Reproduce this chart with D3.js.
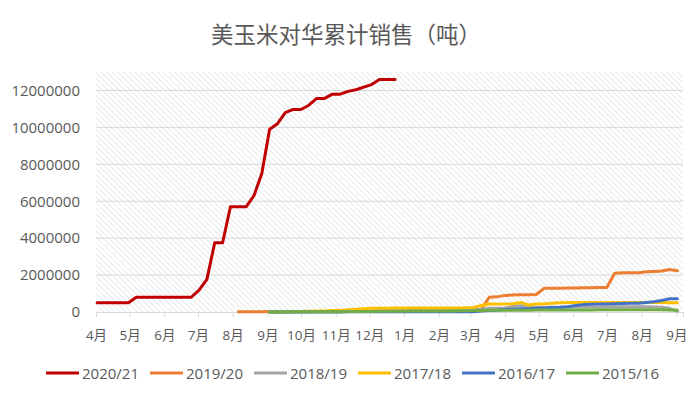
<!DOCTYPE html>
<html><head><meta charset="utf-8">
<script src="https://cdn.jsdelivr.net/npm/d3@7"></script>
<style>
body{margin:0;background:#fff;}
svg text{font-family:"Open Sans","Noto Sans CJK SC",sans-serif;fill:#595959;}
</style></head><body>
<svg id="chart" width="700" height="398"></svg>
<script>
// ---------------- data ----------------
const chartTitle = "美玉米对华累计销售（吨）";
const seriesNames = ["2020/21","2019/20","2018/19","2017/18","2016/17","2015/16"];
const seriesColors = ["#C00000","#ED7D31","#A5A5A5","#FFC000","#4472C4","#70AD47"];
const firstWeekDate = "2020-04-02";           // weekly observations
const seriesStartWeek = [0, 18, 22, 22, 22, 22];

const sales2020_21 = [500000,500000,500000,500000,500000,800000,800000,800000,800000,800000,800000,800000,800000,
  1190000,1770000,3750000,3750000,5700000,5700000,5700000,6300000,7500000,9900000,10200000,10800000,10970000,10970000,
  11200000,11570000,11570000,11800000,11800000,11950000,12040000,12180000,12320000,12600000,12600000,12600000];
const sales2019_20 = [20000,20000,20000,20000,
  30000,30000,30000,30000,30000,30000,30000,30000,30000,
  50000,50000,50000,50000,50000,50000,50000,50000,50000,50000,
  80000,80000,90000,90000,100000,100000,100000,110000,150000,
  800000,820000,900000,920000,930000,940000,950000,1280000,1280000,1290000,1300000,1300000,1310000,1320000,1330000,1330000,
  2100000,2120000,2120000,2120000,2180000,2200000,2220000,2300000,2230000];
const sales2018_19 = [0,10000,10000,20000,20000,20000,30000,30000,30000,40000,40000,40000,50000,50000,
  60000,60000,60000,70000,70000,80000,80000,80000,90000,90000,100000,100000,
  120000,150000,200000,200000,220000,300000,350000,250000,
  250000,250000,260000,260000,260000,270000,270000,270000,270000,280000,280000,280000,280000,280000,280000,270000,260000,
  200000,50000];
const sales2017_18 = [0,0,10000,20000,30000,40000,50000,60000,80000,100000,120000,150000,180000,200000,
  200000,200000,210000,210000,210000,210000,210000,220000,220000,220000,220000,230000,
  250000,350000,430000,430000,430000,450000,520000,380000,
  430000,440000,470000,500000,520000,520000,520000,520000,520000,520000,520000,520000,520000,520000,520000,520000,520000,
  500000,500000];
const sales2016_17 = [0,0,0,0,0,0,0,0,0,0,10000,10000,10000,10000,10000,10000,10000,10000,10000,10000,10000,10000,10000,10000,10000,10000,
  20000,50000,80000,100000,140000,150000,170000,180000,200000,220000,240000,260000,290000,350000,400000,420000,430000,440000,450000,460000,470000,480000,520000,560000,620000,720000,720000];
const sales2015_16 = [0,0,0,10000,10000,10000,20000,20000,20000,20000,30000,30000,30000,30000,40000,40000,40000,40000,50000,50000,50000,50000,60000,60000,70000,70000,
  80000,80000,90000,90000,100000,100000,100000,100000,110000,110000,110000,110000,110000,110000,110000,110000,
  120000,120000,120000,120000,120000,120000,120000,120000,120000,110000,100000];

const monthLabels = ["4月","5月","6月","7月","8月","9月","10月","11月","12月","1月","2月","3月","4月","5月","6月","7月","8月","9月"];
const yTickValues = [0,2000000,4000000,6000000,8000000,10000000,12000000];
const allSeries = [sales2020_21, sales2019_20, sales2018_19, sales2017_18, sales2016_17, sales2015_16];

// ---------------- chart ----------------
const svg = d3.select("#chart");
const plot = {left:96, right:683, top:72, bottom:312};

const x = d3.scaleUtc()
  .domain([new Date("2020-04-01"), new Date("2021-09-07")])
  .range([plot.left, plot.right]);
const y = d3.scaleLinear().domain([0, 13000000]).range([plot.bottom, plot.top]);

const defs = svg.append("defs");
const pat = defs.append("pattern").attr("id","hatch")
  .attr("width",4).attr("height",4).attr("patternUnits","userSpaceOnUse")
  .attr("patternTransform","rotate(-45)");
pat.append("rect").attr("width",4).attr("height",4).attr("fill","#ffffff");
pat.append("line").attr("x1",0).attr("y1",0).attr("x2",0).attr("y2",4)
  .attr("stroke","#dadada").attr("stroke-width",1.2);

svg.append("rect").attr("x",plot.left).attr("y",plot.top)
  .attr("width",plot.right-plot.left).attr("height",plot.bottom-plot.top)
  .attr("fill","url(#hatch)");

// gridlines
svg.append("g").selectAll("line").data(yTickValues.filter(v=>v>0)).join("line")
  .attr("x1",plot.left).attr("x2",plot.right)
  .attr("y1",d=>y(d)).attr("y2",d=>y(d))
  .attr("stroke","#d9d9d9").attr("stroke-width",1);

// y axis
const yAxis = svg.append("g").attr("transform",`translate(${plot.left},0)`)
  .call(d3.axisLeft(y).tickValues(yTickValues).tickSize(0).tickPadding(16).tickFormat(d=>String(d)));
yAxis.select(".domain").remove();
yAxis.selectAll("text").style("font-size","15px").attr("fill","#595959");

// x axis
const monthDates = d3.utcMonth.range(new Date("2020-04-01"), new Date("2021-09-02"));
const xAxis = svg.append("g").attr("transform",`translate(0,${plot.bottom})`)
  .call(d3.axisBottom(x).tickValues(monthDates).tickSize(5).tickPadding(13)
    .tickFormat((d,i)=>monthLabels[i]));
xAxis.select(".domain").attr("stroke","#d9d9d9");
xAxis.selectAll(".tick line").attr("stroke","#d9d9d9");
xAxis.selectAll("text").style("font-size","13.5px").attr("fill","#595959");

// lines
const base = new Date(firstWeekDate);
const line = d3.line().x(d=>x(d.date)).y(d=>y(d.value));
allSeries.forEach((vals, s) => {
  const pts = vals.map((v,i)=>({date:d3.utcDay.offset(base,(seriesStartWeek[s]+i)*7), value:v}));
  svg.append("path").datum(pts)
    .attr("fill","none").attr("stroke",seriesColors[s]).attr("stroke-width",3)
    .attr("stroke-linejoin","round").attr("stroke-linecap","round")
    .attr("d",line);
});

// title
svg.append("text").attr("x",346).attr("y",43).attr("text-anchor","middle")
  .style("font-family","'Noto Sans CJK SC',sans-serif").style("font-size","22.5px")
  .attr("fill","#595959").text(chartTitle);

// legend
const legend = svg.append("g").attr("transform","translate(46,373)");
seriesNames.forEach((name,i)=>{
  const g = legend.append("g").attr("transform",`translate(${i*104},0)`);
  g.append("line").attr("x1",0).attr("x2",33).attr("y1",0).attr("y2",0)
    .attr("stroke",seriesColors[i]).attr("stroke-width",3);
  g.append("text").attr("x",36).attr("y",5.5).style("font-size","15px")
    .attr("fill","#595959").text(name);
});
</script>
</body></html>
